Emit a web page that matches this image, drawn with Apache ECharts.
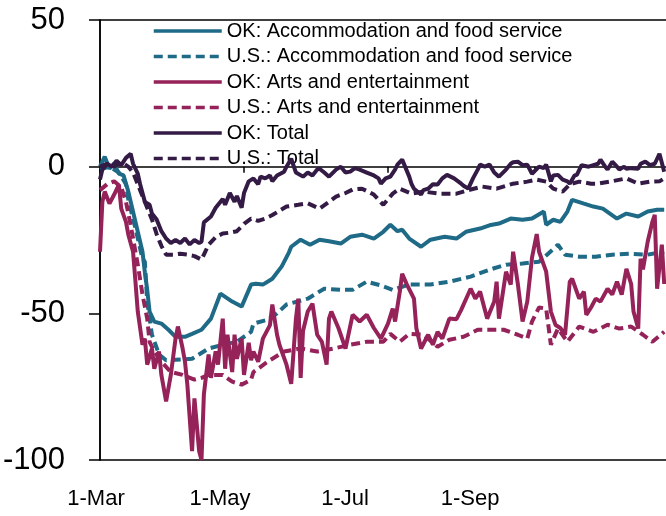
<!DOCTYPE html>
<html>
<head>
<meta charset="utf-8">
<script src="https://cdn.jsdelivr.net/npm/echarts@6/dist/echarts.min.js"></script>
<style>
  html, body { margin: 0; padding: 0; background: #fff; }
  #chart { width: 666px; height: 516px; }
</style>
</head>
<body>
<div id="chart"></div>
<script>
// days counted from 1-Mar, values in %
var tickDays = [0, 61, 122, 184];
var tickLabels = ['1-Mar', '1-May', '1-Jul', '1-Sep'];
// in the source the date labels sit left of their ticks
var labelDays = [-1.7, 50.8, 103.8, 156.8];

var okAccom = [[0,0],[2,3.4],[4,-0.7],[6,1],[8,-2.4],[10,-3],[12,-8.5],[15,-18.8],[18,-29],[19,-36],[20,-42],[21,-49.4],[23,-52.8],[26,-53.5],[29,-55.6],[32,-58],[36,-58],[39,-57],[43,-55.6],[47,-51.8],[51,-43.3],[56,-46],[60,-47.7],[64,-40.2],[66,-39.9],[69,-40.2],[73,-38.2],[77,-34],[80,-29.3],[81,-27.3],[85,-24.9],[89,-26.6],[93,-24.9],[97,-25.4],[102,-26.2],[106,-23.9],[111,-23.2],[116,-24.5],[120,-22.2],[123,-19.8],[126,-22],[128,-21.5],[131,-24.5],[136,-27.3],[140,-24.9],[146,-23.9],[151,-24.5],[155,-22.2],[161,-21.1],[165,-20],[169,-19.4],[174,-17.7],[179,-18.1],[183,-17.7],[188,-15.3],[189,-19.8],[192,-18.1],[195,-18.8],[198,-15.3],[200,-11.3],[205,-12.6],[209,-13.6],[213,-14.3],[219,-17.7],[223,-16],[228,-17],[232,-15.3],[236,-14.7],[239,-14.7]];

var usAccom = [[0,-1],[4,0],[8,-2],[11,-6],[12,-11.3],[15,-21],[18,-31.4],[19,-32.4],[20,-46],[22,-57.3],[25,-64],[28,-66],[32,-65.8],[39,-65.5],[46,-62],[52,-60.7],[58,-59.7],[64,-56.3],[65,-53.5],[71,-52.2],[75,-50],[79,-47],[88,-45],[95,-41.6],[102,-42],[107,-42],[113,-39.2],[119,-40.5],[124,-42],[131,-40.2],[140,-40.2],[148,-39.2],[157,-37.5],[165,-35.1],[172,-33.4],[179,-33],[186,-32.4],[188,-31],[194,-26.6],[197,-30],[203,-30.7],[210,-30.7],[217,-30],[224,-29.7],[232,-30],[239,-29]];

var okArts = [[0,-29],[1,-12],[2,-8.5],[4,-12.6],[6,-9.5],[8,-6.1],[9,-14.3],[11,-18.8],[12,-23.2],[14,-29],[15,-39],[16,-49.4],[18,-60.7],[19,-58.6],[20,-67.5],[22,-62],[23,-68.9],[25,-63],[26,-71],[28,-80],[30,-71],[32,-58.6],[33,-54.5],[35,-62],[36,-66.5],[37,-74.3],[39,-97],[40,-79],[42,-97],[43,-100],[44,-77.7],[46,-64],[47,-72],[49,-63],[50,-67.5],[52,-51.8],[53,-68.9],[54,-57.3],[56,-70],[57,-57.3],[58,-65.5],[60,-58.6],[61,-71],[63,-60],[64,-66],[65,-63],[67,-66.5],[69,-58.6],[72,-54],[73,-47],[75,-57.3],[76,-60.7],[79,-67.5],[81,-74],[82,-63],[83,-51.8],[84,-45],[85,-72],[86,-56],[88,-49.4],[90,-46.7],[92,-57.3],[94,-59.7],[96,-67.5],[97,-51.8],[98,-49.4],[101,-55],[104,-62],[107,-50.5],[110,-52.8],[113,-50.5],[116,-55],[119,-58.6],[122,-53.5],[124,-48.4],[125,-52.8],[127,-42.6],[128,-36.5],[130,-40.2],[133,-45],[134,-55],[136,-62],[139,-57.3],[141,-60.7],[143,-56.3],[145,-58.6],[148,-51.8],[151,-52],[153,-48.8],[157,-41.6],[159,-45],[161,-42.6],[164,-51.8],[167,-46],[168,-39.2],[169,-51.8],[172,-35.8],[174,-40.2],[175,-29],[177,-40],[179,-52.8],[181,-46],[183,-31],[185,-23],[186,-29],[189,-35.8],[191,-49.4],[193,-54],[195,-55],[197,-57.3],[199,-39.2],[200,-38.2],[203,-45],[205,-42.6],[206,-50.5],[208,-48],[210,-45],[212,-46],[215,-41.6],[217,-43.6],[219,-39.2],[221,-43.6],[223,-34.8],[225,-40],[226,-49.4],[228,-55.2],[229,-31.4],[230,-35],[232,-25.6],[234,-18.8],[235,-16.4],[236,-41.6],[238,-26.6],[239,-40]];

var usArts = [[0,-8],[3,-6],[6,-5],[9,-7],[11,-12],[13,-20],[16,-33.4],[18,-43.6],[20,-51.8],[21,-59.7],[23,-63],[26,-66.5],[30,-70],[35,-71],[40,-72.6],[43,-72],[46,-71],[52,-71],[56,-73.3],[60,-74.3],[64,-72.6],[65,-70],[71,-66.5],[78,-63],[85,-62],[92,-63],[99,-62],[106,-60.7],[113,-59.7],[120,-59.7],[123,-57],[127,-59.7],[131,-57],[137,-57.3],[143,-61.4],[148,-59],[154,-58],[160,-55.6],[165,-55.6],[171,-55.6],[177,-57.3],[181,-58.6],[183,-52.8],[186,-48],[189,-48.4],[191,-60.7],[194,-55.2],[198,-59.7],[203,-54.5],[209,-56.3],[215,-53.9],[220,-55.2],[225,-54.5],[230,-57.3],[234,-59.7],[239,-56.3]];

var okTotal = [[0,-4.4],[1,-1],[3,1],[5,0],[7,2],[9,0.5],[11,3],[13,4.4],[14,1],[16,-2.4],[17,-6],[19,-12],[21,-13],[22,-16],[24,-18],[26,-22],[28,-24.5],[30,-26],[32,-25],[34,-26],[36,-24.5],[38,-26.5],[40,-25],[42,-26],[43,-25.6],[44,-19],[47,-17],[49,-14],[52,-11],[53,-13],[55,-9],[57,-12],[58,-10],[60,-14],[61,-9],[63,-5],[65,-4],[67,-6],[68,-3.4],[70,-4],[72,-3],[73,-5],[75,-3],[78,-1.7],[79,0],[81,2.7],[83,-2],[86,-3.4],[88,-2],[90,-3],[92,-1],[93,-0.7],[95,-2],[97,-3.4],[100,-1],[102,0],[104,-2],[106,-1.7],[108,-0.5],[110,-1],[113,-2],[116,-3],[118,-4],[119,-5.8],[121,-4],[123,-3.4],[125,-1],[126,0.7],[128,2.4],[131,-3.4],[132,-6],[133,-7.5],[136,-9.5],[137,-8],[139,-7.5],[141,-6],[143,-6.1],[145,-4],[147,-2.8],[150,-4],[153,-5.8],[154,-6.5],[156,-7.5],[158,-4],[160,-1],[161,0.7],[163,0],[165,0.7],[167,-2],[169,-3.4],[172,-1],[174,1],[175,1.5],[177,1.7],[179,0.5],[181,0.7],[183,-2.4],[186,0],[188,-0.5],[189,0.7],[191,-5],[192,-3],[194,-2.8],[196,-4.4],[198,-5],[199,-5.8],[201,-3],[202,-2.8],[204,0.5],[207,0],[209,0.5],[211,1],[212,2.4],[214,0],[215,-1],[217,1.7],[219,0],[220,-1],[222,0],[223,-0.7],[225,-0.5],[228,-0.7],[229,1],[231,1.7],[233,0.5],[235,1],[237,4.4],[239,-1.7]];

var usTotal = [[0,0],[3,1],[6,0],[9,1.5],[12,0],[14,-2],[17,-8],[20,-14],[22,-18],[24,-23],[26,-27],[28,-30],[31,-30],[34,-29.7],[37,-30],[40,-30.5],[43,-31.7],[46,-26.6],[49,-24],[52,-22.8],[55,-22.5],[58,-22],[61,-19.5],[64,-17.7],[67,-18.5],[70,-17.7],[73,-16.5],[79,-13.6],[84,-13],[88,-12.5],[93,-14.3],[97,-12],[100,-10.2],[104,-9],[107,-7.8],[111,-7.5],[116,-9.5],[120,-13],[124,-9.2],[127,-7.5],[132,-9.2],[137,-8.5],[144,-9.2],[151,-9.2],[157,-7.8],[162,-6.8],[168,-7.5],[175,-5.8],[181,-5.1],[185,-4.4],[189,-5.1],[192,-7.5],[196,-8.5],[199,-6],[203,-5.1],[208,-5.8],[211,-5.8],[216,-5.1],[223,-4],[228,-5.8],[233,-5.1],[237,-5],[239,-4]];

var FONT = "'Liberation Sans', Arial, sans-serif";
var TEAL = '#1f6a86', ARTS = '#952259', TOTAL = '#341b45';
var DASH = [9, 5];
var BLACK = { color: '#000', width: 1.5 };

function line(name, data, color, dashed) {
	return {
		name: name,
		type: 'line',
		data: data,
		showSymbol: false,
		symbol: 'none',
		lineStyle: { color: color, width: 4, type: dashed ? DASH : 'solid' },
		itemStyle: { color: color }
	};
}

var chart = echarts.init(document.getElementById('chart'));
chart.setOption({
	animation: false,
	textStyle: { fontFamily: FONT, color: '#000' },
	grid: [
		{ left: 100, top: 20, right: -10, bottom: 56, show: true, borderColor: '#000', borderWidth: 1.5, outerBoundsMode: 'none' },
		// helper grid that only carries the date labels
		{ left: 50, top: 20, right: -10, bottom: 56, show: false, outerBoundsMode: 'none' }
	],
	legend: {
		orient: 'vertical',
		left: 147,
		top: 16,
		z: 1,
		itemWidth: 68,
		itemHeight: 20,
		itemGap: 5.5,
		itemStyle: { opacity: 0 },
		lineStyle: { width: 3.5 },
		textStyle: { fontFamily: FONT, fontSize: 20, color: '#000' },
		data: ['OK: Accommodation and food service', 'U.S.: Accommodation and food service',
			'OK: Arts and entertainment', 'U.S.: Arts and entertainment', 'OK: Total', 'U.S.: Total']
	},
	xAxis: [{
		type: 'value', min: 0, max: 244, gridIndex: 0,
		axisLine: { onZero: true, lineStyle: BLACK },
		axisTick: { show: true, length: 6, customValues: tickDays, lineStyle: BLACK },
		axisLabel: { show: false },
		splitLine: { show: false }
	}, {
		type: 'value', min: -21.2, max: 244, gridIndex: 1, position: 'bottom',
		axisLine: { show: false, onZero: false },
		axisTick: { show: false },
		axisLabel: {
			customValues: labelDays,
			margin: 28,
			fontFamily: FONT, fontSize: 22, color: '#000',
			formatter: function (v) {
				var i = labelDays.indexOf(v);
				return i >= 0 ? tickLabels[i] : '';
			}
		},
		splitLine: { show: false }
	}],
	yAxis: [{
		type: 'value', min: -100, max: 50, interval: 50, gridIndex: 0,
		axisLine: { show: true, onZero: false, lineStyle: BLACK },
		axisTick: { show: true, length: 11, lineStyle: BLACK },
		axisLabel: { margin: 35, fontFamily: FONT, fontSize: 31, color: '#000' },
		splitLine: { show: false }
	}, {
		type: 'value', min: -100, max: 50, gridIndex: 1, show: false
	}],
	series: [
		line('OK: Accommodation and food service', okAccom, TEAL, false),
		line('U.S.: Accommodation and food service', usAccom, TEAL, true),
		line('OK: Arts and entertainment', okArts, ARTS, false),
		line('U.S.: Arts and entertainment', usArts, ARTS, true),
		line('OK: Total', okTotal, TOTAL, false),
		line('U.S.: Total', usTotal, TOTAL, true)
	]
});
</script>
</body>
</html>
